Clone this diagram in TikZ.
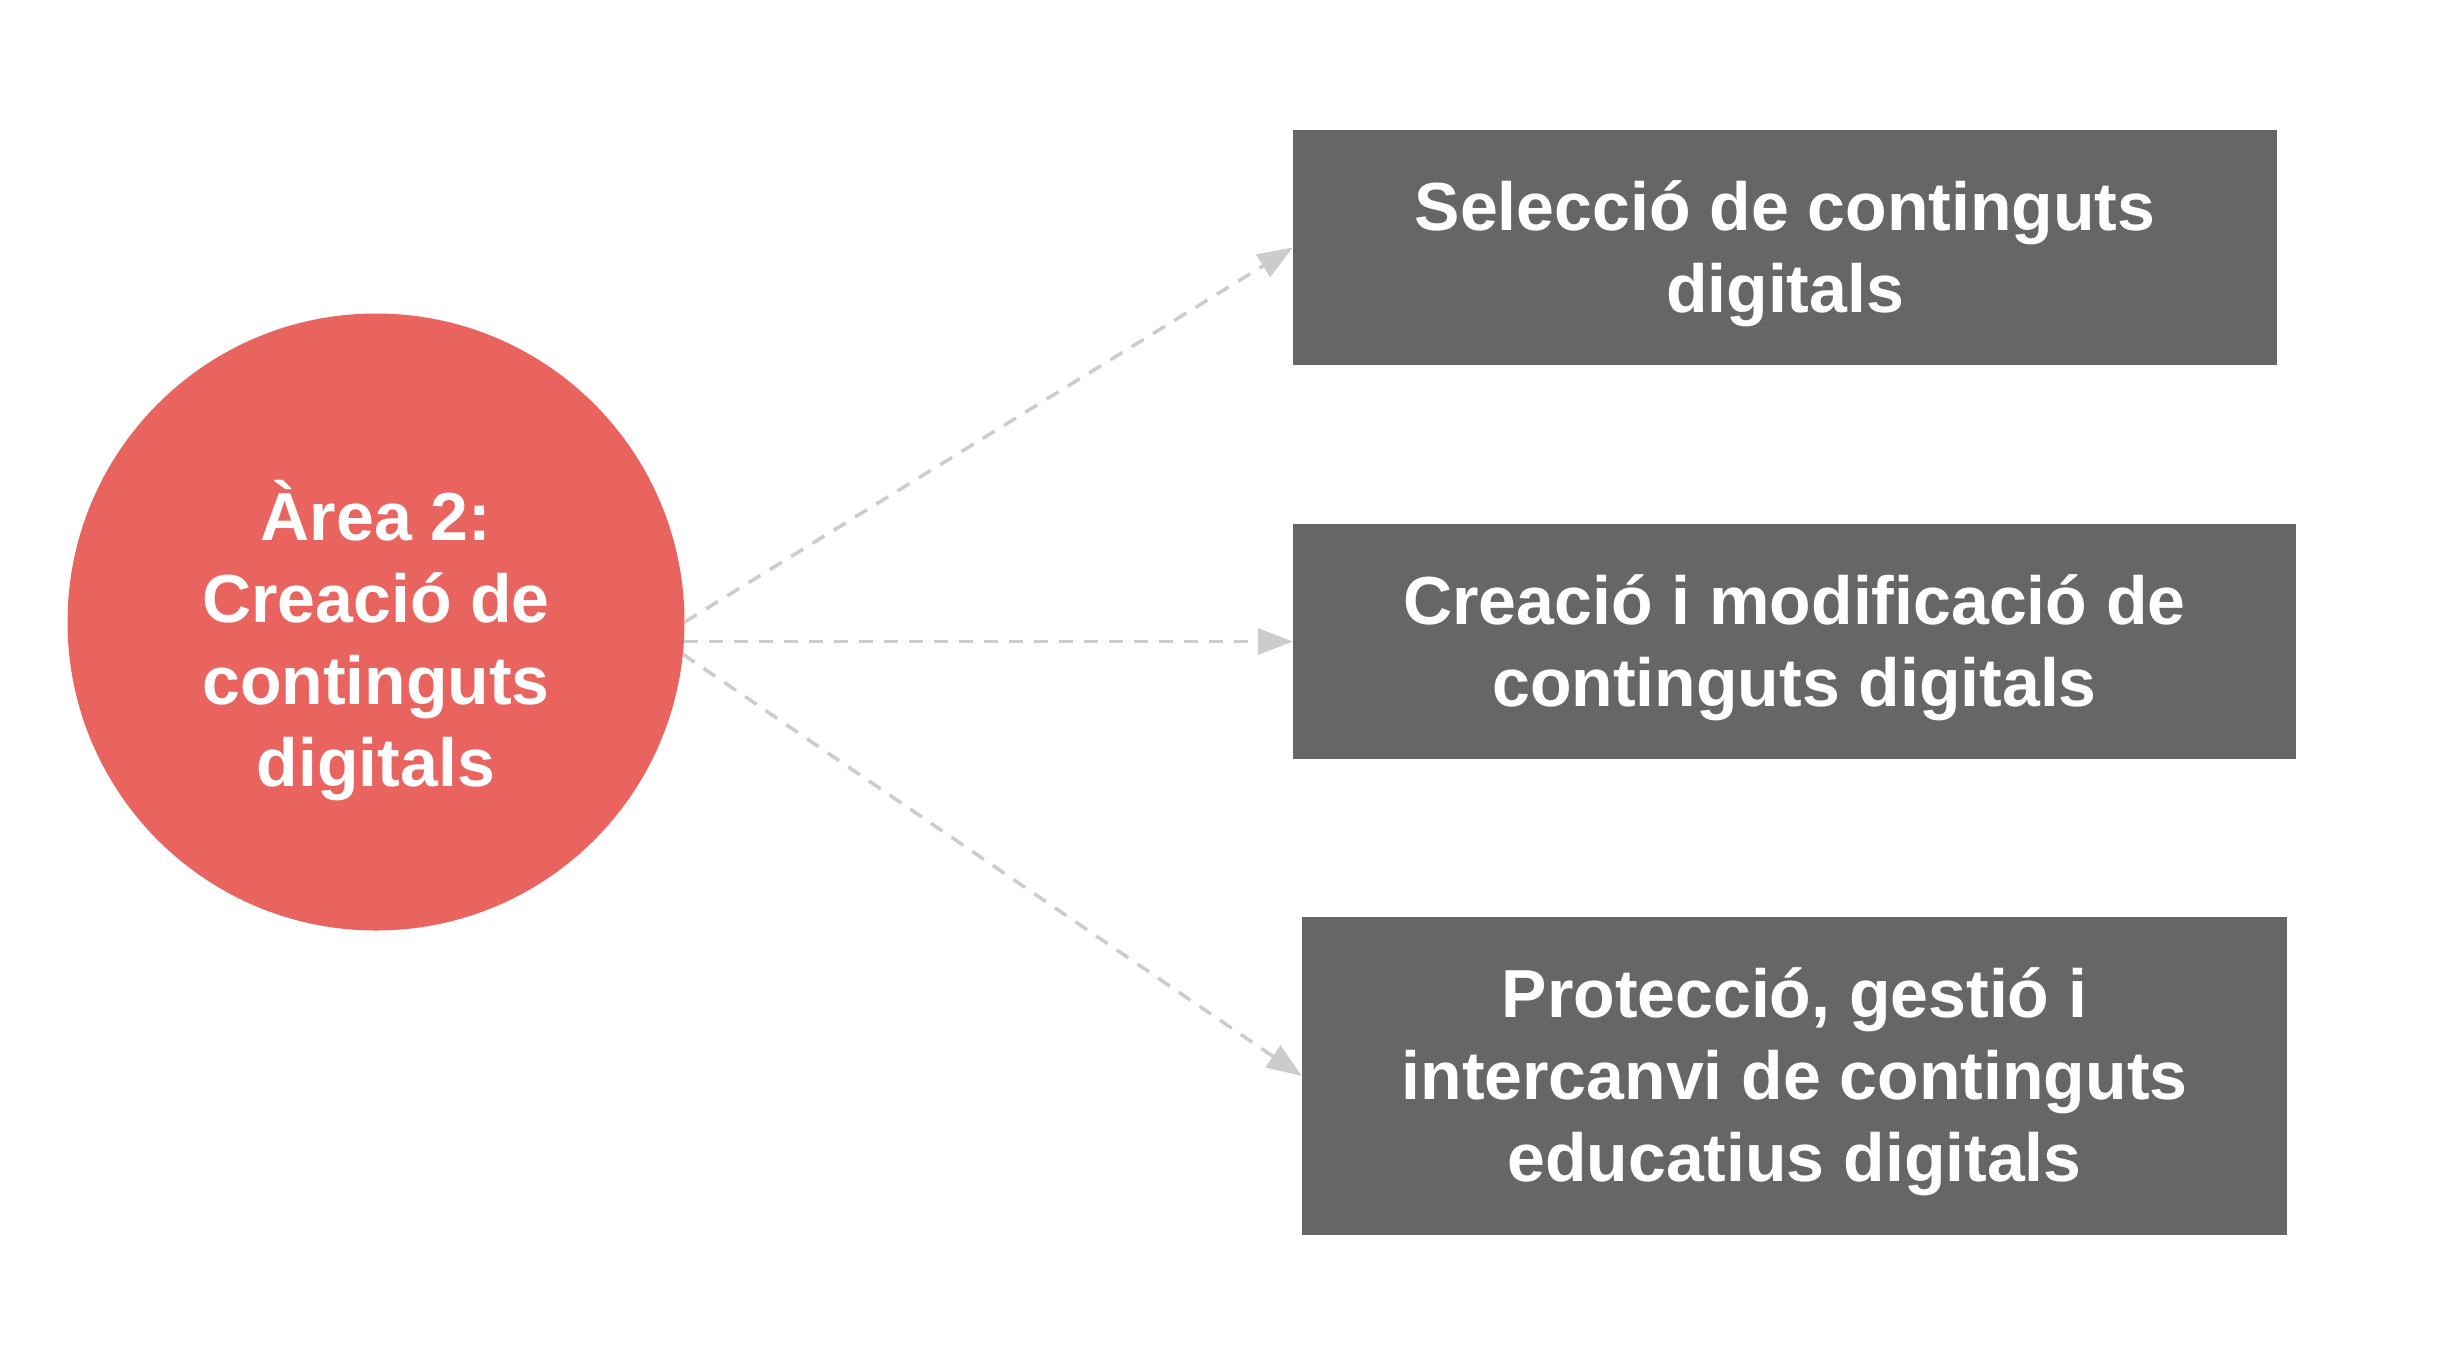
\documentclass[tikz,border=0pt]{standalone}
\usepackage{fontspec}
\setmainfont{Liberation Sans}
\usetikzlibrary{arrows.meta}
\definecolor{circred}{HTML}{EA645F}
\definecolor{boxgray}{HTML}{666666}
\definecolor{arrgray}{HTML}{CCCCCC}
\begin{document}
\begin{tikzpicture}[x=1pt,y=-1pt,
  area/.style={circle, fill=circred, minimum size=617pt, inner sep=0pt},
  topic/.style={rectangle, fill=boxgray, inner sep=0pt},
  whitetext/.style={text=white, inner sep=0pt,
    font=\bfseries\fontsize{68}{82}\selectfont, align=center},
  link/.style={draw=arrgray, line width=3.5pt, dash pattern=on 14pt off 11pt,
    -{Triangle[length=35pt,width=26pt]}}
]
\useasboundingbox (0,0) rectangle (2454,1350);
\fill[white] (0,0) rectangle (2454,1350);

\node[area] (c) at (376,622) {};
\node[whitetext] (ct) at ([yshift=-19pt]c.center) {Àrea 2:\\Creació de\\continguts\\digitals};

\node[topic, minimum width=984pt, minimum height=235pt] (b1) at (1785,247.5) {};
\node[whitetext] (t1) at ([yshift=-6pt]b1.center) {Selecció de continguts\\digitals};
\node[topic, minimum width=1003pt, minimum height=235pt] (b2) at (1794.5,641.5) {};
\node[whitetext] (t2) at ([yshift=-6pt]b2.center) {Creació i modificació de\\continguts digitals};
\node[topic, minimum width=985pt, minimum height=318pt] (b3) at (1794.5,1076) {};
\node[whitetext] (t3) at ([yshift=-6pt]b3.center) {Protecció, gestió i\\intercanvi de continguts\\educatius digitals};

\coordinate (s2) at ([xshift=-1pt]c.east |- b2.west);
\draw[link] (c.-0.5) -- (b1.west);
\draw[link] (s2) -- (b2.west);
\draw[link] (c.-6.5) -- (b3.west);
\end{tikzpicture}
\end{document}
